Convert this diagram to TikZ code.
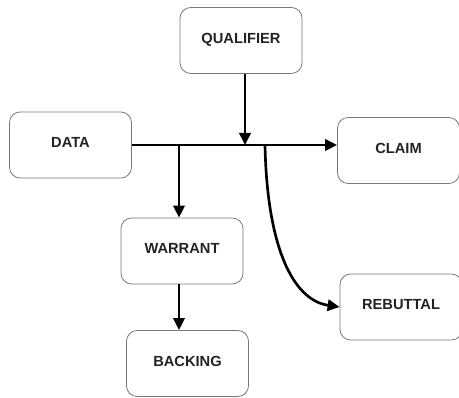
\documentclass[tikz,border=0pt]{standalone}
\usepackage{fontspec}
\setmainfont{Liberation Sans}
\usepackage{xcolor}
\usepackage{tikz}
\usetikzlibrary{arrows.meta}

\definecolor{boxline}{RGB}{120,120,120}
\definecolor{labeltext}{RGB}{35,35,35}

\begin{document}
\begin{tikzpicture}[x=0.75pt, y=-0.75pt]

% Define styles for the nodes
\tikzstyle{part} = [rectangle, rounded corners=8pt, draw=boxline, line width=0.6pt, fill=white, minimum height=49.5pt, minimum width=91.5pt, text height=9pt, text depth=5.2pt, text centered, text=labeltext, font=\fontsize{11}{13}\selectfont\bfseries]
\tikzstyle{link} = [line width=2pt, -{Triangle[length=9pt, width=8.5pt]}]

\useasboundingbox (0,0) rectangle (459,398);

% Nodes
\node (qualifier) [part] at (241,40.5) {QUALIFIER};
\node (data) [part] at (70.5,145) {DATA};
\node (claim) [part] at (398.5,150.5) {CLAIM};
\node (warrant) [part] at (182,251) {WARRANT};
\node (backing) [part] at (187.5,363.5) {BACKING};
\node (rebuttal) [part] at (401,307) {REBUTTAL};

% Points on the main line
\coordinate (w) at (179,145);
\coordinate (q) at (245,145);
\coordinate (r) at (265,145);

% Arrows
\draw[link] (data.east) -- (data.east -| claim.west);
\draw[link] (qualifier.south -| q) -- (q);
\draw[link] (w) -- (w |- warrant.north);
\draw[link] (warrant.south -| w) -- (w |- backing.north);
\draw[link] (r) .. controls (267,245) and (292,300) .. (rebuttal.west);

\end{tikzpicture}
\end{document}
